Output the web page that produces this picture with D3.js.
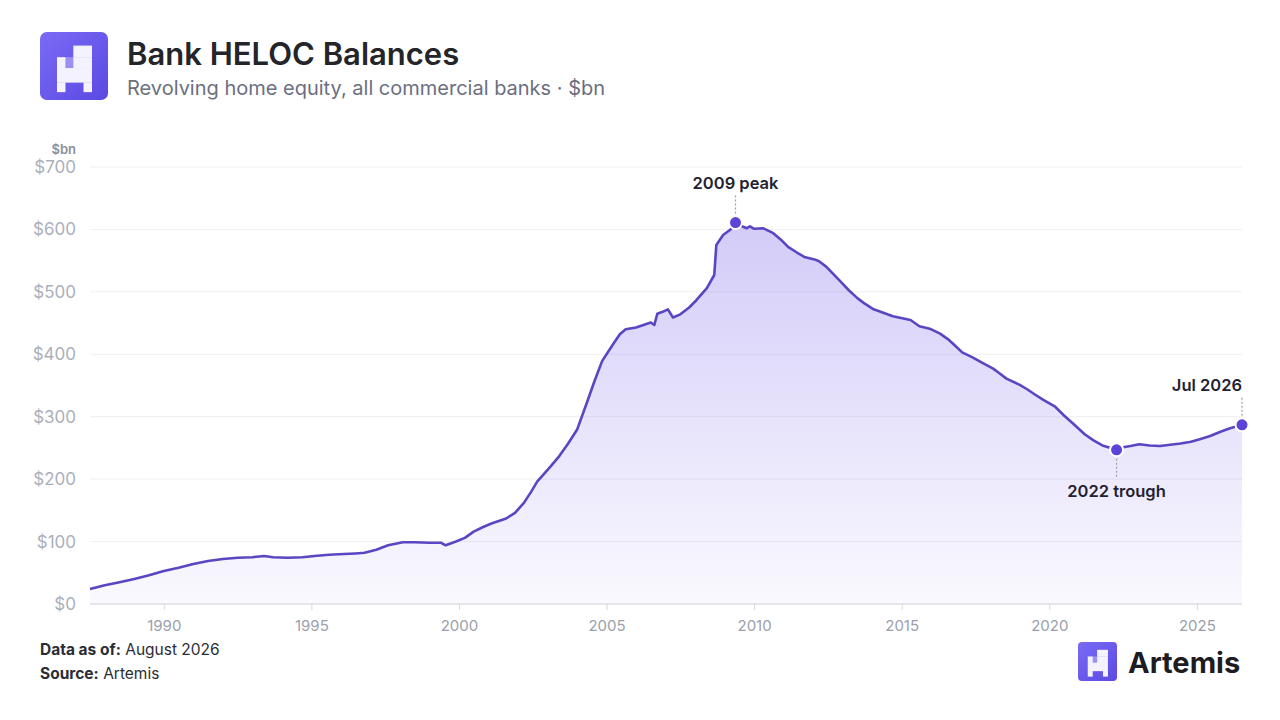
<!DOCTYPE html>
<html>
<head>
<meta charset="utf-8">
<title>Bank HELOC Balances</title>
<script src="https://cdn.jsdelivr.net/npm/d3@7/dist/d3.min.js"></script>
<style>
	body { margin: 0; background: #ffffff; }
	svg { display: block; font-family: Inter, "Noto Sans", sans-serif; }
</style>
</head>
<body>
<div id="chart"></div>
<script>
// Data (decimal year, $bn)
var years = [
	1987.5, 1988.0, 1988.5, 1989.0, 1989.5, 1990.0, 1990.5, 1991.0, 1991.5, 1992.0,
	1992.5, 1993.0, 1993.4, 1993.7, 1994.2, 1994.7, 1995.1, 1995.6, 1996.1, 1996.5,
	1996.8, 1997.2, 1997.6, 1998.1, 1998.5, 1999.0, 1999.4, 1999.55, 1999.9, 2000.2,
	2000.5, 2000.8, 2001.1, 2001.6, 2001.9, 2002.2, 2002.45, 2002.65, 2003.1, 2003.4,
	2003.7, 2004.0, 2004.3, 2004.6, 2004.85, 2005.0, 2005.25, 2005.45, 2005.65, 2006.0,
	2006.25, 2006.5, 2006.62, 2006.72, 2006.9, 2007.08, 2007.25, 2007.5, 2007.8, 2008.05,
	2008.4, 2008.65, 2008.72, 2008.95, 2009.2, 2009.37, 2009.55, 2009.75, 2009.86, 2010.0,
	2010.3, 2010.65, 2010.9, 2011.15, 2011.45, 2011.7, 2012.05, 2012.2, 2012.45, 2012.9,
	2013.2, 2013.5, 2013.75, 2014.05, 2014.4, 2014.7, 2015.3, 2015.6, 2015.95, 2016.3,
	2016.6, 2016.85, 2017.05, 2017.4, 2017.75, 2018.1, 2018.3, 2018.55, 2019.0, 2019.25,
	2019.5, 2019.8, 2020.05, 2020.2, 2020.5, 2020.85, 2021.2, 2021.5, 2021.8, 2022.0,
	2022.28, 2022.5, 2022.75, 2023.05, 2023.4, 2023.75, 2024.1, 2024.45, 2024.8, 2025.1,
	2025.45, 2025.8, 2026.1, 2026.53
];
var balances = [
	24, 30, 35, 40, 46, 53, 58, 64, 69, 72,
	74, 75, 77, 75, 74, 75, 77, 79, 80, 81,
	82, 87, 94, 99, 99, 98, 98, 94, 100, 106,
	116, 123, 129, 137, 146, 162, 180, 196, 220, 237,
	257, 279, 318, 358, 389, 400, 418, 432, 440, 443,
	447, 451, 447, 465, 468, 472, 459, 464, 475, 487,
	506, 527, 575, 591, 600, 611, 606, 602, 605, 601,
	602, 594, 584, 572, 563, 556, 552, 549, 540, 518,
	503, 490, 481, 472, 466, 461, 455, 445, 441, 433,
	423, 412, 403, 395, 386, 377, 370, 361, 351, 344,
	336, 327, 320, 316, 302, 287, 272, 262, 254, 251,
	247, 251, 253, 256, 254, 253, 255, 257, 260, 264,
	269, 276, 281, 287
];

var yTicks = [0, 100, 200, 300, 400, 500, 600, 700];
var xTicks = [1990, 1995, 2000, 2005, 2010, 2015, 2020, 2025];

// Highlighted points: index into the series, label, placement
var callouts = [
	{ index: 65, label: "2009 peak", side: "above", anchor: "middle" },
	{ index: 110, label: "2022 trough", side: "below", anchor: "middle" },
	{ index: 123, label: "Jul 2026", side: "above", anchor: "end" }
];

(function(){

	// Constants
	var WIDTH = 1280, HEIGHT = 720;
	var plot = { left: 90, right: 1242, top: 167, bottom: 604 };
	var lineColor = "#5846c2";
	var dotColor = "#5a45d8";

	var svg = d3.select("#chart").append("svg")
		.attr("width", WIDTH)
		.attr("height", HEIGHT);

	var defs = svg.append("defs");

	// Area gradient
	var areaGrad = defs.append("linearGradient")
		.attr("id", "areaGrad")
		.attr("gradientUnits", "userSpaceOnUse")
		.attr("x1", 0).attr("x2", 0)
		.attr("y1", plot.top).attr("y2", plot.bottom);
	areaGrad.append("stop").attr("offset", "0%").attr("stop-color", "#7b67eb").attr("stop-opacity", 0.38);
	areaGrad.append("stop").attr("offset", "100%").attr("stop-color", "#7b67eb").attr("stop-opacity", 0.04);

	// Logo gradient
	var logoGrad = defs.append("linearGradient")
		.attr("id", "logoGrad")
		.attr("x1", 0).attr("y1", 0).attr("x2", 1).attr("y2", 1);
	logoGrad.append("stop").attr("offset", "0%").attr("stop-color", "#7a6bf5");
	logoGrad.append("stop").attr("offset", "100%").attr("stop-color", "#5b49e2");

	// Draws the pixel "A" mark
	function drawLogo(x, y, size){
		var g = svg.append("g").attr("transform", "translate(" + x + "," + y + ")");
		g.append("rect")
			.attr("width", size).attr("height", size)
			.attr("rx", size * 0.1)
			.attr("fill", "url(#logoGrad)");

		// cells as fractions of the tile: [x0, y0, x1, y1, opacity]
		var cells = [
			[0.49, 0.20, 0.76, 0.37, 1],
			[0.25, 0.37, 0.37, 0.53, 1],
			[0.37, 0.37, 0.49, 0.53, 0.35],
			[0.49, 0.37, 0.76, 0.53, 1],
			[0.25, 0.53, 0.76, 0.74, 1],
			[0.25, 0.74, 0.37, 0.88, 1],
			[0.64, 0.74, 0.76, 0.88, 1]
		];
		cells.forEach(function(c){
			g.append("rect")
				.attr("x", c[0] * size).attr("y", c[1] * size)
				.attr("width", (c[2] - c[0]) * size + 0.3)
				.attr("height", (c[3] - c[1]) * size + 0.3)
				.attr("fill", "#f4f2ff")
				.attr("opacity", c[4]);
		});
	}

	// Header
	drawLogo(40, 32, 68);

	svg.append("text")
		.attr("x", 127).attr("y", 65)
		.attr("font-size", 31).attr("font-weight", 600)
		.attr("fill", "#24252b")
		.text("Bank HELOC Balances");

	svg.append("text")
		.attr("x", 127).attr("y", 95)
		.attr("font-size", 20)
		.attr("fill", "#6b6f80")
		.text("Revolving home equity, all commercial banks \u00b7 $bn");

	// Scales
	var x = d3.scaleLinear()
		.domain([years[0], years[years.length - 1]])
		.range([plot.left, plot.right]);
	var y = d3.scaleLinear()
		.domain([0, 700])
		.range([plot.bottom, plot.top]);

	var points = years.map(function(yr, i){ return { year: yr, value: balances[i] }; });

	// Gridlines
	svg.append("g").selectAll("line")
		.data(yTicks.filter(function(d){ return d > 0; }))
		.enter().append("line")
		.attr("x1", plot.left).attr("x2", plot.right)
		.attr("y1", function(d){ return y(d); })
		.attr("y2", function(d){ return y(d); })
		.attr("stroke", "#eeeff3")
		.attr("stroke-width", 1);

	// Y axis labels
	var yAxis = svg.append("g")
		.attr("transform", "translate(" + (plot.left - 14) + ",0)")
		.call(d3.axisLeft(y).tickValues(yTicks).tickSize(0).tickPadding(0)
			.tickFormat(function(d){ return "$" + d; }));
	yAxis.select(".domain").remove();
	yAxis.selectAll("text")
		.attr("font-family", "Inter, sans-serif")
		.attr("font-size", 17)
		.attr("fill", "#abb0bb");

	svg.append("text")
		.attr("x", plot.left - 14).attr("y", 154)
		.attr("text-anchor", "end")
		.attr("font-size", 13).attr("font-weight", 600)
		.attr("fill", "#8c909c")
		.text("$bn");

	// Area + line
	var area = d3.area()
		.x(function(d){ return x(d.year); })
		.y0(y(0))
		.y1(function(d){ return y(d.value); });
	var line = d3.line()
		.x(function(d){ return x(d.year); })
		.y(function(d){ return y(d.value); });

	svg.append("path")
		.datum(points)
		.attr("d", area)
		.attr("fill", "url(#areaGrad)");

	// X axis
	var xAxis = svg.append("g")
		.attr("transform", "translate(0," + plot.bottom + ")")
		.call(d3.axisBottom(x).tickValues(xTicks).tickSize(6).tickPadding(10)
			.tickFormat(d3.format("d")));
	xAxis.select(".domain")
		.attr("d", "M" + plot.left + ",0H" + plot.right)
		.attr("stroke", "#cdd1d9");
	xAxis.selectAll(".tick line").attr("stroke", "#d5d8de");
	xAxis.selectAll("text")
		.attr("font-family", "Inter, sans-serif")
		.attr("font-size", 15)
		.attr("fill", "#9a9fab");

	svg.append("path")
		.datum(points)
		.attr("d", line)
		.attr("fill", "none")
		.attr("stroke", lineColor)
		.attr("stroke-width", 2.6)
		.attr("stroke-linejoin", "round");

	// Callouts
	callouts.forEach(function(c){
		var p = points[c.index];
		var cx = x(p.year), cy = y(p.value);
		var dir = c.side == "above" ? -1 : 1;

		svg.append("line")
			.attr("x1", cx).attr("x2", cx)
			.attr("y1", cy + dir * 9).attr("y2", cy + dir * 27)
			.attr("stroke", "#9a9da8")
			.attr("stroke-width", 1.2)
			.attr("stroke-dasharray", "2,2");

		svg.append("circle")
			.attr("cx", cx).attr("cy", cy)
			.attr("r", 6.5)
			.attr("fill", dotColor)
			.attr("stroke", "#ffffff")
			.attr("stroke-width", 2);

		svg.append("text")
			.attr("x", c.anchor == "end" ? plot.right : cx)
			.attr("y", c.side == "above" ? cy - 34 : cy + 47)
			.attr("text-anchor", c.anchor)
			.attr("font-size", 16.5).attr("font-weight", 600)
			.attr("fill", "#1f2233")
			.text(c.label);
	});

	// Footer
	var foot1 = svg.append("text").attr("x", 40).attr("y", 655)
		.attr("font-size", 15.5).attr("fill", "#2b2d36");
	foot1.append("tspan").attr("font-weight", 700).text("Data as of:");
	foot1.append("tspan").text(" August 2026");

	var foot2 = svg.append("text").attr("x", 40).attr("y", 679)
		.attr("font-size", 15.5).attr("fill", "#2b2d36");
	foot2.append("tspan").attr("font-weight", 700).text("Source:");
	foot2.append("tspan").text(" Artemis");

	drawLogo(1078, 642, 39);
	svg.append("text")
		.attr("x", 1128).attr("y", 673)
		.attr("font-size", 29).attr("font-weight", 700)
		.attr("fill", "#1c1c22")
		.text("Artemis");

})();
</script>
</body>
</html>
